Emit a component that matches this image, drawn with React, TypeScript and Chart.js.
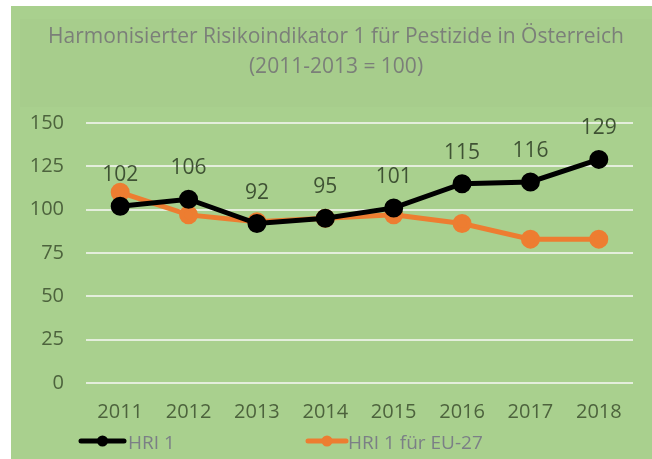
import React, { useEffect, useRef } from "react";
import { Chart, registerables } from "chart.js";

Chart.register(...registerables);

const years = ["2011", "2012", "2013", "2014", "2015", "2016", "2017", "2018"];
const hri1 = [102, 106, 92, 95, 101, 115, 116, 129];
const hri1EU = [110, 97, 93, 95, 97, 92, 83, 83];
const titleLines = ["Harmonisierter Risikoindikator 1 für Pestizide in Österreich", "(2011-2013 = 100)"];
const seriesLabels = ["HRI 1", "HRI 1 für EU-27"];

const FONT = "'Open Sans', sans-serif";

const bgPlugin = {
  id: "bg",
  beforeDraw(chart: any) {
    const { ctx, width, height } = chart;
    ctx.save();
    ctx.fillStyle = "#ffffff";
    ctx.fillRect(0, 0, width, height);
    ctx.fillStyle = "#a9d08e";
    ctx.fillRect(11, 6, width - 11, height - 6);
    ctx.fillStyle = "rgba(0,0,0,0.01)";
    ctx.fillRect(20, 19, width - 20, 88);
    // title
    ctx.fillStyle = "#7b7f79";
    ctx.font = `21px ${FONT}`;
    ctx.textAlign = "center";
    ctx.textBaseline = "middle";
    ctx.fillText(titleLines[0], 336, 37);
    ctx.fillText(titleLines[1], 336, 67);
    ctx.restore();
  },
};

const labelPlugin = {
  id: "labels",
  afterDatasetsDraw(chart: any) {
    const { ctx } = chart;
    const meta = chart.getDatasetMeta(0);
    ctx.save();
    ctx.fillStyle = "#3f5234";
    ctx.font = `21px ${FONT}`;
    ctx.textAlign = "center";
    ctx.textBaseline = "middle";
    meta.data.forEach((pt: any, i: number) => {
      ctx.fillText(String(chart.data.datasets[0].data[i]), pt.x, pt.y - 31);
    });
    ctx.restore();
  },
};

const legendPlugin = {
  id: "customLegend",
  afterDraw(chart: any) {
    const { ctx } = chart;
    const items = [
      { x0: 81, x1: 124, y: 441, tx: 128 },
      { x0: 308, x1: 346, y: 441, tx: 348 },
    ];
    ctx.save();
    chart.data.datasets.forEach((ds: any, i: number) => {
      const it = items[i];
      ctx.strokeStyle = ds.borderColor;
      ctx.lineWidth = 5;
      ctx.lineCap = "round";
      ctx.beginPath();
      ctx.moveTo(it.x0, it.y);
      ctx.lineTo(it.x1, it.y);
      ctx.stroke();
      ctx.fillStyle = ds.borderColor;
      ctx.beginPath();
      ctx.arc((it.x0 + it.x1) / 2, it.y, 5.5, 0, Math.PI * 2);
      ctx.fill();
      ctx.fillStyle = "#7b7f86";
      ctx.font = `19px ${FONT}`;
      ctx.textAlign = "left";
      ctx.textBaseline = "middle";
      ctx.fillText(ds.label, it.tx, it.y + 3);
    });
    ctx.restore();
  },
};

export default function App() {
  const ref = useRef<HTMLCanvasElement>(null);
  useEffect(() => {
    document.body.style.margin = "0";
    const chart = new Chart(ref.current!, {
      type: "line",
      data: {
        labels: years,
        datasets: [
          {
            label: seriesLabels[0],
            data: hri1,
            borderColor: "#000000",
            backgroundColor: "#000000",
            borderWidth: 5,
            pointRadius: 7,
            pointHoverRadius: 7,
            tension: 0,
          },
          {
            label: seriesLabels[1],
            data: hri1EU,
            borderColor: "#ed7d31",
            backgroundColor: "#ed7d31",
            borderWidth: 5,
            pointRadius: 7,
            pointHoverRadius: 7,
            tension: 0,
          },
        ],
      },
      options: {
        animation: false,
        responsive: false,
        layout: { padding: { left: 0, right: 19, top: 123, bottom: 0 } },
        plugins: {
          legend: { display: false },
          title: { display: false },
          tooltip: { enabled: false },
        },
        scales: {
          x: {
            offset: true,
            grid: { display: false, drawTicks: false, offset: true },
            border: { display: false },
            ticks: { color: "#4d633d", font: { family: FONT, size: 20 }, padding: 17, maxRotation: 0 },
            afterFit: (s: any) => {
              s.height = 76;
            },
          },
          y: {
            min: 0,
            max: 150,
            ticks: { stepSize: 25, color: "#4d633d", font: { family: FONT, size: 20 }, padding: 22 },
            grid: { color: "#e4eedc", lineWidth: 2, drawTicks: false },
            border: { display: false },
            afterFit: (s: any) => {
              s.width = 86;
            },
          },
        },
      },
      plugins: [bgPlugin, labelPlugin, legendPlugin],
    });
    return () => chart.destroy();
  }, []);
  return (
    <div style={{ position: "absolute", left: 0, top: 0, width: 652, height: 459 }}>
      <canvas ref={ref} width={652} height={459} style={{ display: "block" }} />
    </div>
  );
}
